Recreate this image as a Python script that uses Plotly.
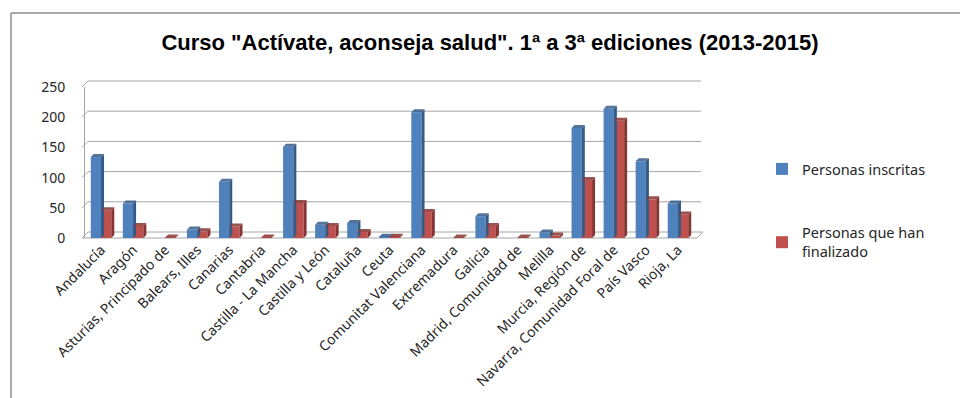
import plotly.graph_objects as go

categories = ["Andalucía", "Aragón", "Asturias, Principado de", "Balears, Illes", "Canarias",
              "Cantabria", "Castilla - La Mancha", "Castilla y León", "Cataluña", "Ceuta",
              "Comunitat Valenciana", "Extremadura", "Galicia", "Madrid, Comunidad de", "Melilla",
              "Murcia, Región de", "Navarra, Comunidad Foral de", "País Vasco", "Rioja, La"]
inscritas = [134, 57, 0, 14, 93, 0, 151, 22, 25, 2, 208, 0, 36, 0, 9, 182, 214, 127, 57]
finalizado = [46, 20, 1, 11, 19, 1, 58, 20, 10, 2, 43, 1, 20, 1, 4, 96, 194, 64, 39]
y_ticks = [0, 50, 100, 150, 200, 250]

BLUE = "#4F81BD"
RED = "#C0504D"
BLUE_DARK = "#345A88"
RED_DARK = "#863532"
GRID = "#a6a6a6"

W, H = 960, 398
L, R, T, B = 85, 694, 87, 238
YMAX = 250


def px_x(p):
    return (p - L) / (R - L)


def px_y(p):
    return (B - p) / (B - T)


fig = go.Figure()
fig.add_trace(go.Bar(x=list(range(len(categories))), y=inscritas, name="Personas inscritas",
                     marker=dict(color=BLUE, line=dict(width=0)), legendgroup="a"))
fig.add_trace(go.Bar(x=list(range(len(categories))), y=finalizado,
                     name="Personas que han<br>finalizado",
                     marker=dict(color=RED, line=dict(width=0)), legendgroup="b"))

bargap = 0.36
bw = (1 - bargap) / 2
dx = 3.0 / ((R - L) / len(categories))
dy = 3.0 / ((B - T) / YMAX)

shapes = []
# back wall gridlines (offset for depth)
depth_px = 6
for t in y_ticks:
    yb = t / YMAX + depth_px / (B - T)
    yf = t / YMAX
    shapes.append(dict(type="line", xref="paper", yref="paper",
                       x0=px_x(82), y0=yf, x1=px_x(88), y1=yb,
                       line=dict(color=GRID, width=1), layer="below"))
    if t > 0:
        shapes.append(dict(type="line", xref="paper", yref="paper",
                           x0=px_x(88), y0=yb, x1=px_x(701), y1=yb,
                           line=dict(color=GRID, width=1), layer="below"))
# floor
shapes.append(dict(type="path", xref="paper", yref="paper",
                   path=f"M{px_x(82)},0 L{px_x(88)},{depth_px/(B-T)} L{px_x(703)},{depth_px/(B-T)} L{px_x(697)},0 Z",
                   fillcolor="rgba(0,0,0,0)", line=dict(color=GRID, width=1), layer="below"))

for i, (a, b) in enumerate(zip(inscritas, finalizado)):
    for val, x0, side in ((a, i - bw, BLUE_DARK), (b, i, RED_DARK)):
        x1 = x0 + bw
        shapes.append(dict(type="path", xref="x", yref="y",
                           path=f"M{x1},0 L{x1+dx},{dy} L{x1+dx},{val+dy} L{x1},{val} Z",
                           fillcolor=side, line=dict(width=0), layer="above"))
        if val > 0:
            shapes.append(dict(type="path", xref="x", yref="y",
                               path=f"M{x0},{val} L{x0+dx},{val+dy} L{x1+dx},{val+dy} L{x1},{val} Z",
                               fillcolor=side, line=dict(width=0), layer="above", opacity=0.85))

# outer frame
shapes.append(dict(type="line", xref="paper", yref="paper",
                   x0=px_x(11), x1=px_x(965), y0=px_y(13), y1=px_y(13),
                   line=dict(color="#8c8c8c", width=1.5)))
shapes.append(dict(type="line", xref="paper", yref="paper",
                   x0=px_x(11), x1=px_x(11), y0=px_y(13), y1=px_y(405),
                   line=dict(color="#8c8c8c", width=1.5)))

fig.update_layout(
    width=W, height=H,
    margin=dict(l=L, r=W - R, t=T, b=H - B, autoexpand=False),
    paper_bgcolor="white", plot_bgcolor="rgba(0,0,0,0)",
    barmode="group", bargap=bargap, bargroupgap=0,
    shapes=shapes,
    title=dict(text="<b>Curso \"Actívate, aconseja salud\". 1ª a 3ª ediciones (2013-2015)</b>",
               x=490 / W, xanchor="center",
               y=1 - 42 / H, yanchor="middle",
               font=dict(family="Liberation Sans", size=22, color="black")),
    font=dict(family="Noto Sans", size=13, color="#262626"),
    legend=dict(x=px_x(762), xanchor="left", y=px_y(153), yanchor="top",
                font=dict(family="Noto Sans", size=14.5, color="#262626"),
                tracegroupgap=42, itemwidth=30, bgcolor="rgba(0,0,0,0)"),
    xaxis=dict(tickmode="array", tickvals=list(range(len(categories))), ticktext=categories,
               tickangle=-45, range=[-0.5, len(categories) - 0.5], showgrid=False,
               showline=False, ticks="", zeroline=False, automargin=False,
               tickfont=dict(size=14, color="#262626")),
    yaxis=dict(range=[0, YMAX], tickvals=y_ticks, showgrid=False,
               zeroline=False, showline=True, linecolor=GRID, automargin=False,
               ticks="", ticklabelstandoff=16, tickfont=dict(size=14, color="#262626")),
)

fig.write_html("out.html")
